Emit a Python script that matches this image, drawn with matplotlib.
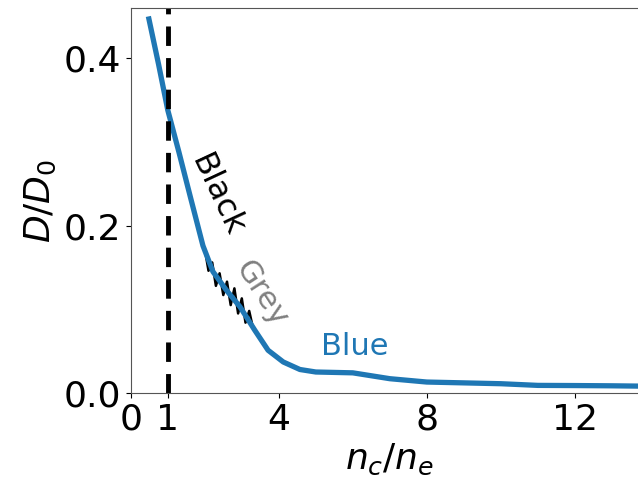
import matplotlib.pyplot as plt

# blue curve
nc_ne = [0.49, 0.75, 1.0, 1.3, 1.6, 1.95, 2.22, 2.58, 2.95, 3.35, 3.71, 4.12, 4.57, 5.0, 6.0, 7.0, 8.0, 9.0, 10.0, 11.0, 12.0, 13.0, 14.0]
d_d0 = [0.447, 0.393, 0.338, 0.288, 0.236, 0.176, 0.145, 0.123, 0.103, 0.075, 0.051, 0.037, 0.028, 0.025, 0.024, 0.017, 0.013, 0.012, 0.011, 0.009, 0.0088, 0.0085, 0.008]

# noisy black series hidden under the blue one
black_x = [2.0, 2.1, 2.2, 2.3, 2.4, 2.5, 2.6, 2.7, 2.8, 2.9, 3.0, 3.1, 3.2, 3.3]
black_y = [0.172, 0.146, 0.156, 0.128, 0.143, 0.117, 0.133, 0.105, 0.125, 0.095, 0.113, 0.084, 0.098, 0.078]

xticks = [0, 1, 4, 8, 12]
yticks = [0.0, 0.2, 0.4]

fig = plt.figure(figsize=(6.38, 4.78), dpi=100)
ax = fig.add_axes([0.205, 0.178, 0.812, 0.805])

ax.plot(black_x, black_y, color='black', lw=1.8)
ax.plot(nc_ne, d_d0, color='tab:blue', lw=3.8)
ax.axvline(1, color='black', ls='--', lw=3.5, dashes=(4, 2.5))

ax.text(2.33, 0.236, 'Black', color='black', fontsize=23, rotation=-65, ha='center', va='center')
ax.text(3.52, 0.119, 'Grey', color='grey', fontsize=22, rotation=-57, ha='center', va='center')
ax.text(6.05, 0.056, 'Blue', color='tab:blue', fontsize=22, ha='center', va='center')

ax.set_xlim(0, 14)
ax.set_ylim(0, 0.46)
ax.set_xticks(xticks)
ax.set_yticks(yticks)
ax.set_xticklabels([str(t) for t in xticks])
ax.set_yticklabels(['%.1f' % t for t in yticks])
ax.tick_params(labelsize=26)
ax.set_xlabel('$n_c/n_e$', fontsize=26)
ax.set_ylabel('$D/D_0$', fontsize=26)
for s in ax.spines.values():
    s.set_linewidth(0.8)
    s.set_color('#555555')

fig.savefig('out.png')
